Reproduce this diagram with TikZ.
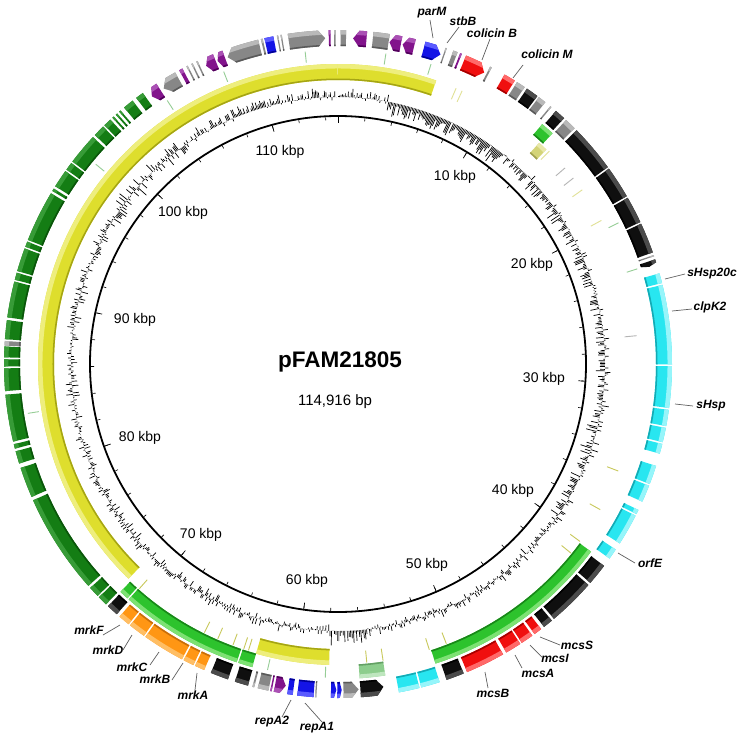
\documentclass[tikz,border=0pt]{standalone}
\usepackage{fontspec}
\setmainfont{Liberation Sans}
\definecolor{cY}{RGB}{222,222,45}\definecolor{hY}{RGB}{238,238,125}\definecolor{dY}{RGB}{165,165,20}
\definecolor{cG}{RGB}{45,195,45}\definecolor{hG}{RGB}{125,225,115}\definecolor{dG}{RGB}{25,135,25}
\definecolor{cDG}{RGB}{20,125,20}\definecolor{hDG}{RGB}{55,155,55}\definecolor{dDG}{RGB}{10,85,10}
\definecolor{cOR}{RGB}{255,150,20}\definecolor{hOR}{RGB}{255,190,100}\definecolor{dOR}{RGB}{200,110,10}
\definecolor{cRD}{RGB}{240,15,15}\definecolor{hRD}{RGB}{255,105,105}\definecolor{dRD}{RGB}{165,0,0}
\definecolor{cBL}{RGB}{20,20,230}\definecolor{hBL}{RGB}{90,90,255}\definecolor{dBL}{RGB}{0,0,150}
\definecolor{cPU}{RGB}{130,20,140}\definecolor{hPU}{RGB}{170,80,180}\definecolor{dPU}{RGB}{80,0,90}
\definecolor{cGR}{RGB}{135,135,135}\definecolor{hGR}{RGB}{185,185,185}\definecolor{dGR}{RGB}{90,90,90}
\definecolor{cBK}{RGB}{15,15,15}\definecolor{hBK}{RGB}{75,75,75}\definecolor{dBK}{RGB}{0,0,0}
\definecolor{cCY}{RGB}{40,230,240}\definecolor{hCY}{RGB}{150,245,250}\definecolor{dCY}{RGB}{20,170,180}
\definecolor{cLG}{RGB}{140,205,140}\definecolor{hLG}{RGB}{190,230,190}\definecolor{dLG}{RGB}{100,160,100}
\definecolor{cKH}{RGB}{212,212,120}\definecolor{hKH}{RGB}{232,232,170}\definecolor{dKH}{RGB}{160,160,80}
\definecolor{hitG}{RGB}{150,205,150}
\definecolor{hitY}{RGB}{200,200,90}
\definecolor{hitP}{RGB}{225,225,150}
\definecolor{hitA}{RGB}{180,180,180}
\definecolor{connc}{RGB}{95,95,95}
\tikzset{
  gcbar/.style={line width=0.7pt, black},
  conn/.style={draw=connc, line width=0.7pt},
  glabel/.style={font=\fontsize{12}{14}\selectfont\bfseries\itshape, inner sep=0pt},
  klabel/.style={font=\fontsize{14}{16}\selectfont, inner sep=0pt},
  hitln/.style={line width=0.9pt},
}
% feature: start kbp, end kbp, r in, r out, colour key, direction (0,1,-1)
\newcommand\gfeat[6]{%
  \pgfmathsetmacro\ga{90-3.132723*(#1)}%
  \pgfmathsetmacro\gb{90-3.132723*(#2)}%
  \pgfmathsetmacro\gm{(#3+#4)/2}%
  \pgfmathsetmacro\gt{min(1.2,0.45*(\ga-\gb))}%
  \pgfmathsetmacro\gh{#4-0.28*(#4-#3)}%
  \pgfmathsetmacro\gd{#3+1.5}%
  \begin{scope}
  \ifnum#6=1\relax
    \clip (\ga:#3pt) arc[start angle=\ga,end angle=\gb+\gt,radius=#3pt] -- (\gb:\gm pt) -- (\gb+\gt:#4pt) arc[start angle=\gb+\gt,end angle=\ga,radius=#4pt] -- cycle;
  \else\ifnum#6=-1\relax
    \clip (\ga-\gt:#3pt) arc[start angle=\ga-\gt,end angle=\gb,radius=#3pt] -- (\gb:#4pt) arc[start angle=\gb,end angle=\ga-\gt,radius=#4pt] -- (\ga:\gm pt) -- cycle;
  \else
    \clip (\ga:#3pt) arc[start angle=\ga,end angle=\gb,radius=#3pt] -- (\gb:#4pt) arc[start angle=\gb,end angle=\ga,radius=#4pt] -- cycle;
  \fi\fi
  \fill[fill=c#5] (0,0) circle[radius=#4pt+2pt];
  \fill[fill=h#5,even odd rule] (0,0) circle[radius=#4pt+2pt] (0,0) circle[radius=\gh pt];
  \fill[fill=d#5,even odd rule] (0,0) circle[radius=\gd pt] (0,0) circle[radius=#3pt-2pt];
  \end{scope}}
\newcommand\ghit[4]{%
  \pgfmathsetmacro\ha{90-3.132723*(#1)}%
  \draw[hitln,draw=#4] (\ha:#2pt) -- (\ha:#3pt);}
\begin{document}
\begin{tikzpicture}[x=1pt,y=1pt]
\useasboundingbox (-338,-376) rectangle (405,364);
\fill[white] (-338,-376) rectangle (405,364);

% GC plot
\pgfmathsetseed{12345}
\foreach \i in {0,...,1148}{%
  \pgfmathsetmacro\kk{\i/10}%
  \pgfmathsetmacro\cc{(\kk<3.5)?2.5:((\kk<12)?-8:((\kk<25)?-3.5:((\kk<40)?-2:((\kk<55.5)?0.5:((\kk<58)?8:((\kk<96)?0:((\kk<104)?0:3)))))))}%
  \pgfmathsetmacro\ss{(\kk<3.5)?7:((\kk<12)?9:((\kk<25)?10:((\kk<40)?10:((\kk<55.5)?8:((\kk<58)?9:((\kk<96)?8.5:((\kk<104)?13:7)))))))}%
  \pgfmathsetmacro\rr{267+\cc+\ss*rand*(0.4+0.6*rnd)}%
  \pgfmathsetmacro\aa{90-3.132723*\kk}%
  \draw[gcbar] (\aa:267pt) -- (\aa:\rr pt);
}

% inner circle and ticks
\draw[line width=1.8pt] (0,0) circle[radius=248pt];
\foreach \t in {0,2,...,114}{%
  \pgfmathsetmacro\ta{90-3.132723*\t}%
  \draw[line width=0.6pt] (\ta:247pt) -- (\ta:244pt);}
\foreach \t in {0,10,...,110}{%
  \pgfmathsetmacro\ta{90-3.132723*\t}%
  \draw[line width=0.7pt] (\ta:247pt) -- (\ta:241pt);}

% ring Y
\gfeat{71.6}{114.9}{284}{300}{Y}{0}
\gfeat{0.0}{6.1}{284}{300}{Y}{0}
\gfeat{58.0}{62.5}{285}{301}{Y}{0}
\gfeat{13.5}{14.1}{285}{299}{KH}{0}
% ring G
\foreach \fs/\fe/\fc in {62.5/63.35/G,63.45/70.75/G,70.85/71.4/G,40.4/51.7/G,12.9/13.7/G,54.7/56.2/LG}{%
  \gfeat{\fs}{\fe}{301}{315}{\fc}{0}}
% ring O (genes)
\foreach \fs/\fe/\fc/\fd in {
 101.35/101.45/DG/0,101.6/101.7/DG/0,101.85/101.95/DG/0,102.2/102.8/DG/0,103.05/103.5/DG/0,
 103.8/104.4/PU/-1,104.6/105.6/GR/-1,105.85/106.05/PU/0,106.3/106.38/GR/0,106.6/106.68/GR/0,106.9/106.98/GR/0,
 107.3/107.9/PU/-1,108.0/108.45/PU/-1,108.6/110.5/GR/-1,110.65/110.75/GR/0,110.85/111.35/BL/0,
 111.55/111.62/GR/0,111.75/111.82/GR/0,112.15/114.2/GR/1,114.4/114.5/PU/0,114.7/114.78/GR/0,
 0.15/0.45/GR/0,0.85/1.6/PU/-1,1.95/2.85/GR/0,2.9/3.55/PU/-1,3.65/4.3/PU/-1,4.85/5.85/BL/1,
 6.0/6.07/GR/0,6.45/6.7/GR/0,6.85/6.95/PU/0,7.2/8.5/RD/1,8.65/8.75/GR/0,9.55/10.2/RD/0,
 10.35/10.85/GR/0,11.0/11.7/BK/0,11.8/12.25/GR/0,12.6/12.68/GR/0,13.0/13.6/BK/0,13.75/14.4/GR/0,
 14.55/17.2/BK/0,17.3/19.1/BK/0,19.2/20.7/BK/0,20.8/22.5/BK/0,22.65/22.72/GR/0,22.9/23.2/BK/1,
 23.7/24.25/CY/0,24.35/28.75/CY/0,28.85/31.15/CY/0,31.25/32.15/CY/0,32.25/33.05/CY/0,33.15/33.7/CY/0,
 34.4/35.45/CY/0,35.55/36.5/CY/0,37.0/37.25/CY/0,37.35/39.1/CY/0,39.5/40.1/CY/0,
 40.6/41.8/BK/0,41.95/44.6/BK/0,44.75/45.3/BK/0,45.5/45.95/RD/0,46.1/46.8/RD/0,46.9/47.8/RD/0,
 48.0/50.2/RD/0,50.4/51.4/BK/0,51.8/52.85/CY/0,52.95/54.1/CY/0,54.9/56.2/BK/-1,56.3/57.15/GR/-1,
 57.25/57.5/BL/-1,57.55/57.85/BL/-1,58.65/58.72/GR/0,58.8/59.7/BL/0,59.95/60.25/BL/0,
 60.4/61.0/PU/-1,61.12/61.2/PU/0,61.3/61.9/GR/0,62.1/62.2/GR/0,62.45/63.2/BK/0,63.6/64.6/BK/0,
 65.0/65.55/OR/0,65.65/66.25/OR/0,66.35/68.7/OR/0,68.8/69.75/OR/0,69.85/70.5/OR/0,70.7/71.35/BK/0,
 71.5/72.05/DG/0,72.15/72.75/DG/0,72.9/78.5/DG/0,78.7/80.4/DG/0,80.65/81.35/DG/0,81.5/81.75/DG/0,
 81.9/84.5/DG/0,84.7/85.95/DG/0,86.05/86.45/DG/0,86.55/87.15/DG/0,87.2/87.45/GR/0,87.55/88.6/DG/0,
 88.75/90.75/DG/0,90.85/91.25/DG/0,91.35/92.65/DG/0,92.75/93.05/DG/0,93.15/96.0/DG/0,96.15/96.3/DG/0,
 96.45/97.45/DG/0,97.55/98.0/DG/0,98.1/99.85/DG/0,100.0/100.65/DG/0,100.75/101.2/DG/0}{%
  \gfeat{\fs}{\fe}{318}{334}{\fc}{\fd}}

% small hits
\foreach \k in {2.8,5.5,20.2,23.1,58.2,61.6,83.3,98.8,104.4,108.1,113.0}{\ghit{\k}{303}{314}{hitG}}
\foreach \k in {35.4,38.0,40.3,41.2,50.7,51.8,54.7,55.7,63.0,63.3,64.0,65.0,65.9,70.7}{\ghit{\k}{288}{300}{hitY}}
\foreach \k in {7.4,7.8,14.3,17.4,19.6}{\ghit{\k}{288}{300}{hitP}}
\foreach \k in {15.7,16.5,27.0}{\ghit{\k}{288}{300}{hitA}}

% centre text
\node[font=\fontsize{22.5}{26}\selectfont\bfseries, anchor=base, inner sep=0pt] (title) at (2,-3) {pFAM21805};
\node[font=\fontsize{15}{18}\selectfont, anchor=base, inner sep=0pt] (bp) at (-3,-41) {114,916 bp};

% kbp labels
\node[klabel] (k10) at (117,187) {10 kbp};
\node[klabel] (k20) at (194,99) {20 kbp};
\node[klabel] (k30) at (206,-15) {30 kbp};
\node[klabel] (k40) at (175,-127) {40 kbp};
\node[klabel] (k50) at (89,-201) {50 kbp};
\node[klabel] (k60) at (-31,-217) {60 kbp};
\node[klabel] (k70) at (-137,-171) {70 kbp};
\node[klabel] (k80) at (-198,-74) {80 kbp};
\node[klabel] (k90) at (-203,44) {90 kbp};
\node[klabel] (k100) at (-155,151) {100 kbp};
\node[klabel] (k110) at (-58,212) {110 kbp};

% gene labels
\node[glabel] (parM) at (94,351) {parM};
\node[glabel] (stbB) at (125,343) {stbB};
\node[glabel] (colB) at (154,331) {colicin B};
\node[glabel] (colM) at (209,310) {colicin M};
\node[glabel] (hsp20) at (374,90) {sHsp20c};
\node[glabel] (clpK) at (372,57) {clpK2};
\node[glabel] (shsp) at (373,-42) {sHsp};
\node[glabel] (orfE) at (312,-199) {orfE};
\node[glabel] (mcsS) at (239,-281) {mcsS};
\node[glabel] (mcsI) at (217,-294) {mcsI};
\node[glabel] (mcsA) at (200,-309) {mcsA};
\node[glabel] (mcsB) at (155,-329) {mcsB};
\node[glabel] (repA1) at (-21,-364) {repA1};
\node[glabel] (repA2) at (-66,-358) {repA2};
\node[glabel] (mrkA) at (-145,-331) {mrkA};
\node[glabel] (mrkB) at (-183,-315) {mrkB};
\node[glabel] (mrkC) at (-206,-303) {mrkC};
\node[glabel] (mrkD) at (-230,-286) {mrkD};
\node[glabel] (mrkF) at (-249,-266) {mrkF};

% connectors
\foreach \n/\ax/\ay/\bx/\by in {
  parM/92/344/95/326, stbB/121/337/109/321, colB/152/325/144/304, colM/185/299/175/286,
  hsp20/347/90/327/85, clpK/354/55/334/53, shsp/355/-42/337/-40, orfE/297/-199/280/-189,
  mcsS/222/-281/202/-273, mcsI/204/-293/192/-281, mcsA/184/-304/177/-291, mcsB/150/-324/147/-308,
  repA1/-16/-358/-33/-339, repA2/-56/-353/-47/-336, mrkA/-143/-326/-141/-309,
  mrkB/-166/-316/-155/-299, mrkC/-188/-301/-179/-288, mrkD/-215/-286/-206/-271, mrkF/-235/-271/-218/-261}{%
  \coordinate (\n-a) at (\ax,\ay);
  \coordinate (\n-b) at (\bx,\by);
  \draw[conn] (\n-a) -- (\n-b);}
\end{tikzpicture}
\end{document}
